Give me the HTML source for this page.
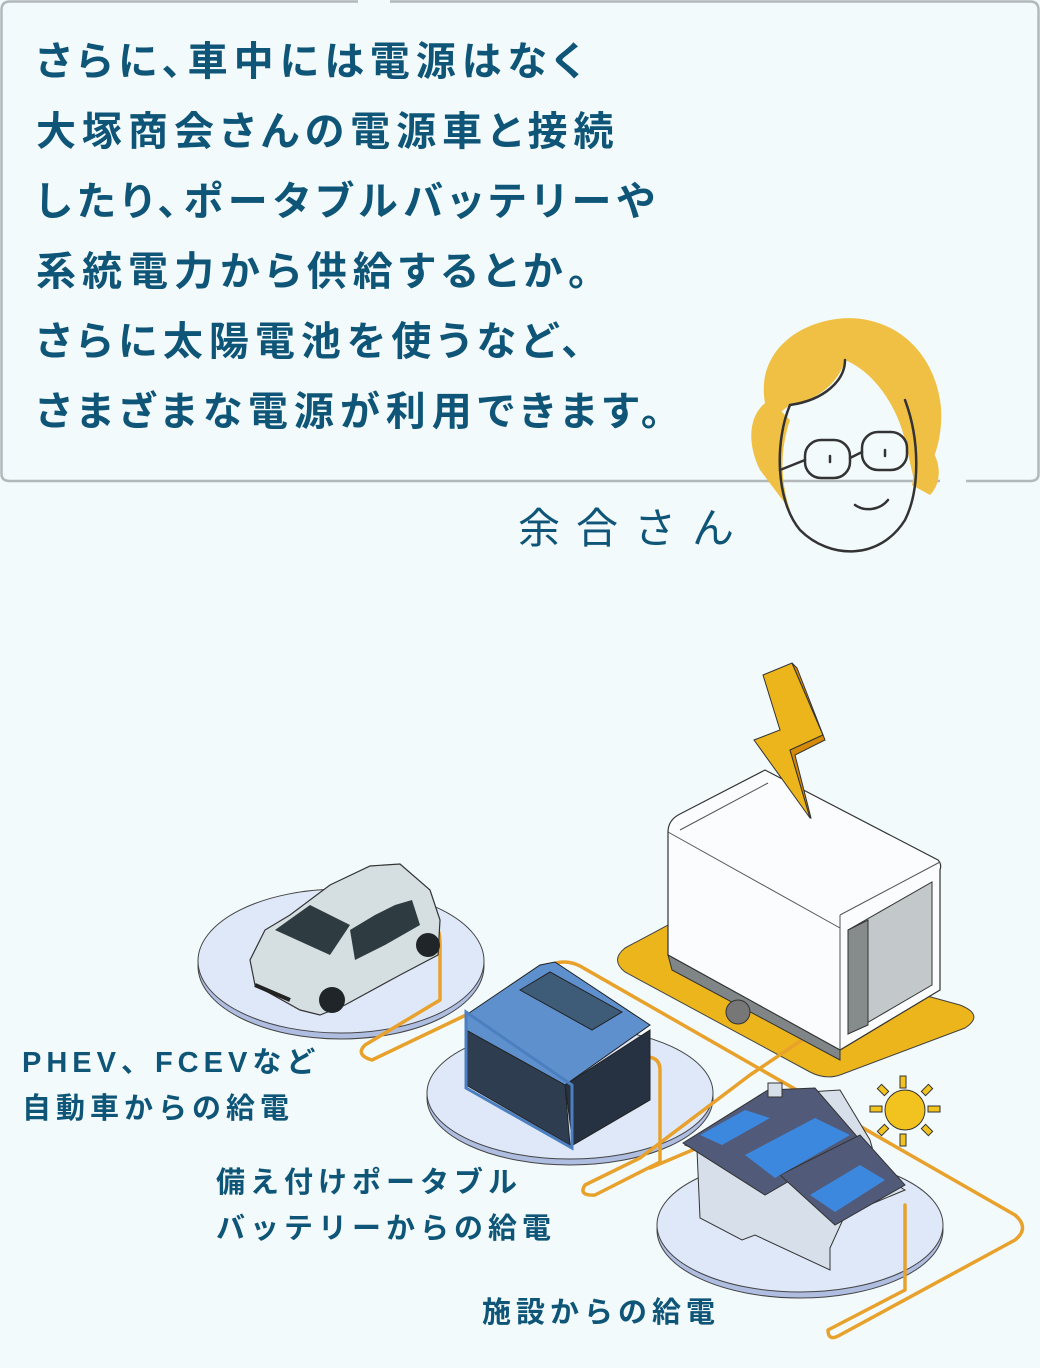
<!DOCTYPE html>
<html><head><meta charset="utf-8"><style>
html,body{margin:0;padding:0;background:#f2fafc;}
body{width:1040px;height:1368px;position:relative;overflow:hidden;font-family:"Liberation Sans","Noto Sans CJK JP",sans-serif;}
.t{position:absolute;color:#0e5577;font-weight:700;white-space:nowrap;}
.main{left:36px;top:27px;font-size:40px;line-height:70px;letter-spacing:6px;font-feature-settings:"palt";}
.lab{font-size:29px;line-height:46px;letter-spacing:5px;}
</style></head><body>
<svg width="1040" height="1368" style="position:absolute;left:0;top:0">
<path d="M358,1.5 H10 Q1.5,1.5 1.5,10 V474 Q1.5,481 10,481 H940 M966,481 H1030 Q1038.5,481 1038.5,474 V10 Q1038.5,1.5 1030,1.5 H390" fill="#f2fafc" stroke="#b3b8bb" stroke-width="2.5"/>
<g stroke="#333" stroke-width="2.5" fill="none" stroke-linecap="round">
<path d="M770,420 C750,370 780,330 830,320 C880,310 930,340 940,400 C945,430 935,470 915,485 L905,440 C895,400 870,370 845,360 C840,380 820,400 790,405 Z" fill="#f0c045" stroke="none"/>
<path d="M760,470 C745,440 750,410 770,400 L790,420 C780,450 780,480 790,510 Z" fill="#f0c045" stroke="none"/>
<path d="M920,440 C940,450 945,480 930,495 L912,485 Z" fill="#f0c045" stroke="none"/>
<path d="M790,405 C775,440 775,500 800,530 C830,560 880,560 905,520 C920,490 920,440 905,400"/>
<path d="M845,360 C845,380 825,400 790,405"/>
<rect x="805" y="440" width="45" height="38" rx="16"/>
<rect x="862" y="432" width="45" height="38" rx="16"/>
<path d="M850,458 L862,452 M805,460 L780,470"/>
<path d="M830,456 l0,6 M885,450 l0,6 M855,505 C865,512 880,510 888,500"/>
</g>
<g stroke="#444" stroke-width="1">
<ellipse cx="341" cy="966" rx="143" ry="73" fill="#aebde0"/>
<ellipse cx="341" cy="961" rx="143" ry="72" fill="#dfe8f9"/>
<ellipse cx="570" cy="1098" rx="143" ry="67" fill="#aebde0"/>
<ellipse cx="570" cy="1093" rx="143" ry="66" fill="#dfe8f9"/>
<ellipse cx="800" cy="1230" rx="143" ry="68" fill="#aebde0"/>
<ellipse cx="800" cy="1225" rx="143" ry="67" fill="#dfe8f9"/>
</g>
<path d="M625,948 L668,925 L960,1005 Q985,1015 965,1028 L840,1075 Q825,1080 810,1072 L625,972 Q610,960 625,948Z" fill="#ecb51b" stroke="#444" stroke-width="1"/>
<g fill="none" stroke="#e8a12a" stroke-width="3.5" stroke-linecap="round" stroke-linejoin="round">
<path d="M425,918 C440,922 440,935 440,950 L440,1000 L365,1045 Q355,1055 372,1060 L466,1015"/>
<path d="M556,963 Q568,960 580,966 L1015,1215 Q1030,1228 1015,1240 L840,1335 Q828,1342 828,1330 L905,1290 L905,1205"/>
<path d="M813,937 Q803,940 803,955 L802,1040 L750,1075 L640,1158 L585,1185 Q578,1196 595,1195 L660,1162 L660,1070 Q660,1058 648,1057"/>
<path d="M650,1168 L768,1118"/>
</g>
<path d="M668,955 L668,832 Q668,820 680,814 L765,770 L938,860 Q942,864 940,870 L940,990 L840,1050 Z" fill="#fafcfd" stroke="#333" stroke-width="1.2"/>
<path d="M680,830 L768,783 M840,915 L940,862 M840,915 L840,1050 M668,832 L840,928" stroke="#555" fill="none" stroke-width="1"/>
<path d="M668,955 L840,1050 L840,1060 L672,970 Z" fill="#808687" stroke="#333"/>
<path d="M848,930 L932,882 L932,985 L848,1034 Z" fill="#c3c8ca" stroke="#333"/>
<path d="M848,930 L868,920 L868,1025 L848,1034 Z" fill="#868b8c" stroke="#333"/>
<circle cx="738" cy="1012" r="12" fill="#777" stroke="#333"/>
<path d="M763,675 L792,663 L823,735 L790,750 L810,818 L754,740 L780,730 Z" fill="#ecb51b" stroke="#333"/>
<path d="M792,663 L797,668 L825,740 L795,755 L811,818 L810,818 L790,750 L823,735 Z" fill="#d48a08" stroke="#333"/>
<path d="M250,960 L265,930 L290,915 L330,885 L370,866 L400,864 L430,890 L440,920 L438,955 L400,975 L345,1005 L320,1015 L300,1010 L255,985 Z" fill="#d5dfe2" stroke="#333" stroke-width="1.2"/>
<path d="M275,930 L310,905 L350,925 L330,955 Z" fill="#2e3c42"/>
<path d="M350,930 L375,915 L395,905 L412,900 L420,925 L385,945 L355,960 Z" fill="#2e3c42"/>
<circle cx="332" cy="1000" r="13" fill="#1f2528"/><circle cx="428" cy="945" r="12" fill="#1f2528"/>
<path d="M255,985 L290,1000" stroke="#222" stroke-width="4"/>
<path d="M466,1015 L540,965 L555,962 L650,1025 L565,1085 L466,1030 Z" fill="#5d90cd" stroke="#222"/>
<path d="M520,990 L550,972 L622,1012 L592,1030 Z" fill="#3e5b78" stroke="#222"/>
<path d="M466,1030 L565,1085 L570,1145 L466,1085 Z" fill="#2f3d50" stroke="#222"/>
<path d="M565,1085 L650,1030 L650,1100 L573,1145 Z" fill="#263241" stroke="#222"/>
<path d="M466,1012 L466,1088 L572,1148 L572,1085 Z" fill="none" stroke="#4c7fc0" stroke-width="3"/>
<path d="M685,1145 L760,1095 L840,1090 L870,1140 L880,1175 L905,1190 L845,1215 L830,1248 L830,1270 L755,1235 L742,1240 L700,1218 L697,1150 Z" fill="#d7e0ea" stroke="#333"/>
<path d="M683,1143 L768,1090 L815,1088 L860,1140 L765,1195 Z" fill="#515a78" stroke="#333"/>
<path d="M780,1175 L860,1135 L905,1185 L835,1225 Z" fill="#515a78" stroke="#333"/>
<path d="M700,1135 L745,1110 L770,1118 L722,1145 Z" fill="#3d88df"/>
<path d="M745,1155 L815,1118 L850,1135 L775,1178 Z" fill="#3d88df"/>
<path d="M810,1195 L860,1165 L885,1180 L835,1212 Z" fill="#3d88df"/>
<rect x="768" y="1083" width="14" height="14" fill="#d7e0ea" stroke="#333"/>
<g fill="#f2c21f" stroke="#333">
<circle cx="905" cy="1110" r="20"/>
<rect x="900" y="1076" width="6" height="12"/><rect x="900" y="1134" width="6" height="12"/>
<rect x="870" y="1106" width="12" height="6"/><rect x="928" y="1106" width="12" height="6"/>
<rect x="880" y="1085" width="6" height="10" transform="rotate(-45 883 1090)"/>
<rect x="924" y="1125" width="6" height="10" transform="rotate(-45 927 1130)"/>
<rect x="924" y="1085" width="6" height="10" transform="rotate(45 927 1090)"/>
<rect x="880" y="1125" width="6" height="10" transform="rotate(45 883 1130)"/>
</g>
</svg>
<div class="t main">さらに、車中には電源はなく<br>大塚商会さんの電源車と接続<br>したり、ポータブルバッテリーや<br>系統電力から供給するとか。<br>さらに太陽電池を使うなど、<br>さまざまな電源が利用できます。</div>
<div class="t" style="left:518px;top:495px;font-size:42px;font-weight:400;letter-spacing:16px;">余合さん</div>
<div class="t lab" style="left:22px;top:1040px;">PHEV、FCEVなど<br>自動車からの給電</div>
<div class="t lab" style="left:216px;top:1160px;">備え付けポータブル<br>バッテリーからの給電</div>
<div class="t lab" style="left:482px;top:1290px;">施設からの給電</div>
</body></html>
